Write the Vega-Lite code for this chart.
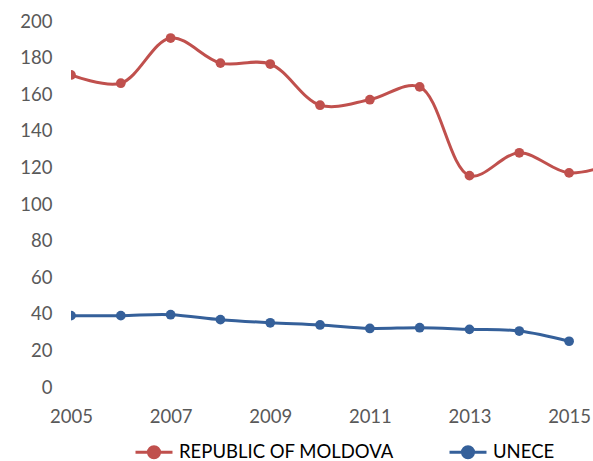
{
  "$schema": "https://vega.github.io/schema/vega-lite/v6.json",
  "width": 522,
  "height": 366,
  "autosize": "none",
  "padding": {"left": 71, "top": 21, "right": 0, "bottom": 74},
  "config": {"view": {"stroke": null}, "font": "Lato"},
  "data": {
    "values": [
      {"year": 2005, "series": "REPUBLIC OF MOLDOVA", "value": 170.5},
      {"year": 2006, "series": "REPUBLIC OF MOLDOVA", "value": 166},
      {"year": 2007, "series": "REPUBLIC OF MOLDOVA", "value": 190.7},
      {"year": 2008, "series": "REPUBLIC OF MOLDOVA", "value": 177},
      {"year": 2009, "series": "REPUBLIC OF MOLDOVA", "value": 176.5},
      {"year": 2010, "series": "REPUBLIC OF MOLDOVA", "value": 154},
      {"year": 2011, "series": "REPUBLIC OF MOLDOVA", "value": 157},
      {"year": 2012, "series": "REPUBLIC OF MOLDOVA", "value": 164},
      {"year": 2013, "series": "REPUBLIC OF MOLDOVA", "value": 115.5},
      {"year": 2014, "series": "REPUBLIC OF MOLDOVA", "value": 128},
      {"year": 2015, "series": "REPUBLIC OF MOLDOVA", "value": 117},
      {"year": 2016, "series": "REPUBLIC OF MOLDOVA", "value": 123},
      {"year": 2005, "series": "UNECE", "value": 39},
      {"year": 2006, "series": "UNECE", "value": 39},
      {"year": 2007, "series": "UNECE", "value": 39.5},
      {"year": 2008, "series": "UNECE", "value": 36.8},
      {"year": 2009, "series": "UNECE", "value": 35.1},
      {"year": 2010, "series": "UNECE", "value": 33.9},
      {"year": 2011, "series": "UNECE", "value": 32},
      {"year": 2012, "series": "UNECE", "value": 32.4},
      {"year": 2013, "series": "UNECE", "value": 31.5},
      {"year": 2014, "series": "UNECE", "value": 30.6},
      {"year": 2015, "series": "UNECE", "value": 25}
    ]
  },
  "encoding": {
    "x": {
      "field": "year",
      "type": "quantitative",
      "scale": {"domain": [2005, 2015.48], "nice": false, "zero": false},
      "axis": {
        "values": [2005, 2007, 2009, 2011, 2013, 2015],
        "format": "d",
        "title": null,
        "domain": false,
        "ticks": false,
        "grid": false,
        "labelFontSize": 18.5,
        "labelColor": "#595959",
        "labelPadding": 20,
        "labelFlush": false
      }
    },
    "y": {
      "field": "value",
      "type": "quantitative",
      "scale": {"domain": [0, 200], "nice": false},
      "axis": {
        "values": [0, 20, 40, 60, 80, 100, 120, 140, 160, 180, 200],
        "title": null,
        "domain": false,
        "ticks": false,
        "grid": false,
        "labelFontSize": 18.5,
        "labelColor": "#595959",
        "labelPadding": 19
      }
    },
    "color": {
      "field": "series",
      "type": "nominal",
      "scale": {"domain": ["REPUBLIC OF MOLDOVA", "UNECE"], "range": ["#C0504D", "#35609A"]},
      "legend": {
        "title": null,
        "orient": "none",
        "direction": "horizontal",
        "legendX": 72,
        "legendY": 420,
        "padding": 0,
        "symbolType": "M-2,0H2M-0.6,0A0.6,0.6,0,1,1,0.6,0A0.6,0.6,0,1,1,-0.6,0Z",
        "symbolSize": 342,
        "symbolStrokeWidth": 3,
        "labelFontSize": 18.5,
        "labelColor": "#000000",
        "labelOffset": 14,
        "labelLimit": 400,
        "columnPadding": 49,
        "encode": {
          "symbols": {
            "update": {
              "fill": {"scale": "color", "field": "value"},
              "stroke": {"scale": "color", "field": "value"},
              "opacity": {"value": 1}
            }
          }
        }
      }
    }
  },
  "layer": [
    {"mark": {"type": "line", "interpolate": "catmull-rom", "strokeWidth": 3, "clip": true}},
    {"mark": {"type": "circle", "size": 95, "opacity": 1, "clip": true}}
  ]
}
